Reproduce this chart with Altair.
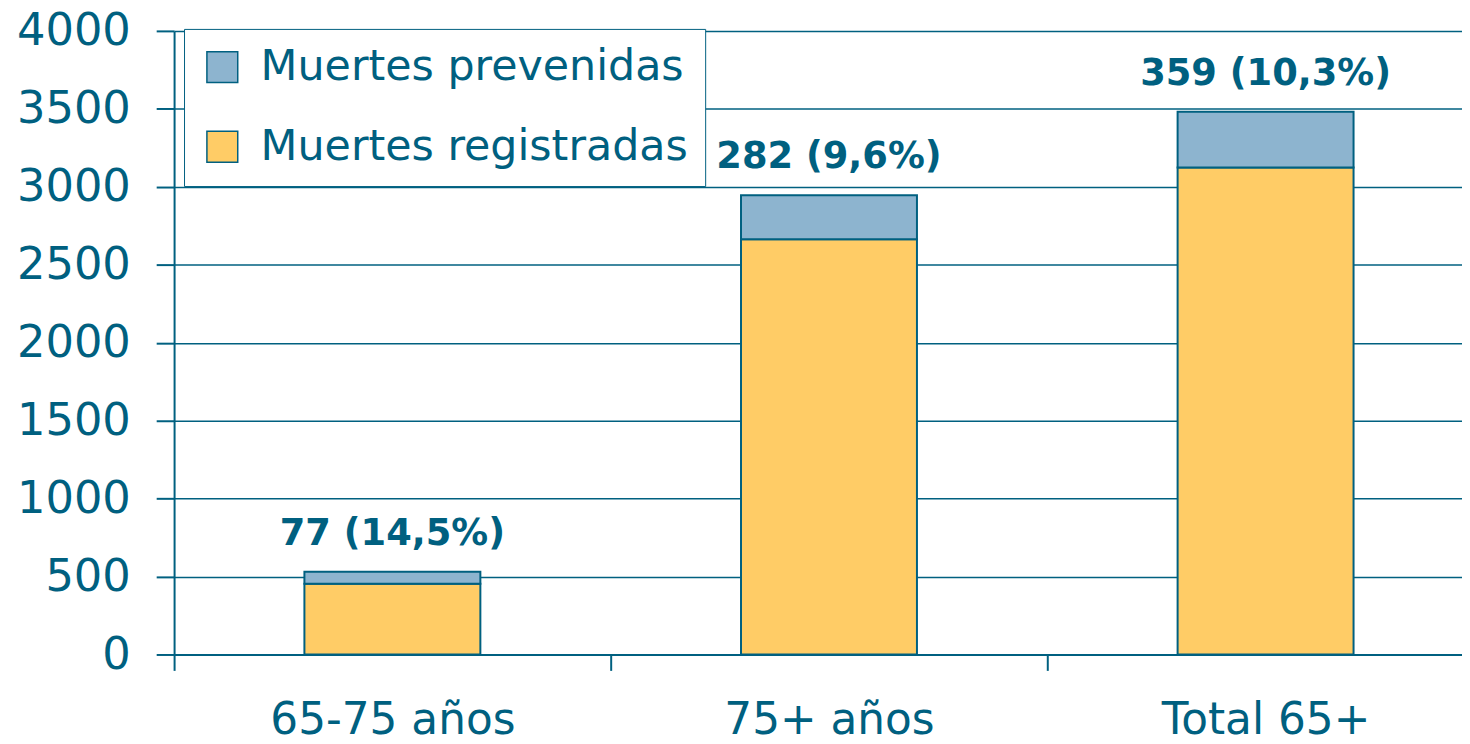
import altair as alt
import pandas as pd

categories = ["65-75 años", "75+ años", "Total 65+"]
registradas = [454, 2664, 3123]
prevenidas = [77, 282, 359]
etiquetas = ["77 (14,5%)", "282 (9,6%)", "359 (10,3%)"]
series = ["Muertes prevenidas", "Muertes registradas"]
colores = ["#8DB4CF", "#FFCC66"]
y_ticks = [0, 500, 1000, 1500, 2000, 2500, 3000, 3500, 4000]

TEAL = "#006080"
FONT = "DejaVu Sans"

rows = []
for c, r, p in zip(categories, registradas, prevenidas):
    rows.append({"cat": c, "serie": "Muertes registradas", "valor": r, "orden": 0})
    rows.append({"cat": c, "serie": "Muertes prevenidas", "valor": p, "orden": 1})
df = pd.DataFrame(rows)

tot = pd.DataFrame({
    "cat": categories,
    "total": [r + p for r, p in zip(registradas, prevenidas)],
    "label": etiquetas,
})

x_scale = alt.Scale(range=[0, 1317], paddingInner=0, paddingOuter=0)

x_enc = alt.X(
    "cat:N", sort=categories, title=None, scale=x_scale,
    axis=alt.Axis(labelAngle=0, tickBand="extent", tickSize=16, labelPadding=28,
                  labelFontSize=44, labelFont=FONT, labelColor=TEAL, labelLimit=0,
                  domainColor=TEAL, domainWidth=2, tickColor=TEAL, tickWidth=2,
                  grid=False),
)

y_scale = alt.Scale(domain=[0, 4000], nice=False)

bars = alt.Chart(df).mark_bar(stroke=TEAL, strokeWidth=2,
                              width=alt.RelativeBandSize(0.403)).encode(
    x=x_enc,
    y=alt.Y("valor:Q", stack="zero", scale=y_scale, title=None,
            axis=alt.Axis(values=y_ticks, format="d", tickSize=18, labelPadding=26,
                          labelFontSize=45, labelFont=FONT, labelColor=TEAL,
                          domainColor=TEAL, domainWidth=2, tickColor=TEAL, tickWidth=2,
                          grid=True, gridColor=TEAL, gridWidth=1.5, gridOpacity=1)),
    color=alt.Color("serie:N", scale=alt.Scale(domain=series, range=colores),
                    legend=alt.Legend(title=None, orient="none", legendX=10, legendY=-2,
                                      padding=17, fillColor="white", strokeColor=TEAL,
                                      symbolType="square", symbolSize=961,
                                      symbolStrokeColor=TEAL, symbolStrokeWidth=1.5,
                                      symbolOpacity=1, labelFontSize=43, labelFont=FONT,
                                      labelColor=TEAL, labelLimit=0, rowPadding=36,
                                      labelOffset=17)),
    order=alt.Order("orden:Q"),
)

texts = alt.Chart(tot).mark_text(
    font=FONT, fontSize=37, fontWeight="bold", color=TEAL, dy=-27, baseline="alphabetic"
).encode(
    x=alt.X("cat:N", sort=categories, scale=x_scale),
    y=alt.Y("total:Q", scale=y_scale),
    text="label:N",
)

chart = alt.layer(bars, texts).properties(
    width=1295, height=627,
    padding={"left": 167, "top": 21, "right": 0, "bottom": 88},
    autosize=alt.AutoSizeParams(type="none"),
).configure_view(strokeWidth=0)

chart.save("out.html", embed_options={"renderer": "svg", "actions": False})
